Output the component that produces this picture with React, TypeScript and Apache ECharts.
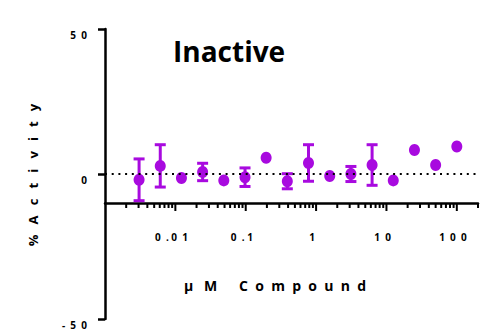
import React, { useEffect, useRef } from 'react';
import * as echarts from 'echarts';

// µM compound concentrations (2-fold dilution series)
const concentrations = [0.00305, 0.0061, 0.0122, 0.0244, 0.0488, 0.0977, 0.195, 0.39, 0.78, 1.5625, 3.125, 6.25, 12.5, 25, 50, 100];
// % activity (means)
const activity = [-2.0, 2.8, -1.4, 0.7, -2.2, -1.1, 5.6, -2.5, 3.8, -0.7, 0.0, 3.1, -2.2, 8.3, 3.1, 9.5];
// error bar half-lengths (0 = hidden behind the marker)
const errors = [7.2, 7.3, 0, 3.0, 0, 3.2, 0, 2.6, 6.3, 0, 2.6, 7.0, 0, 0, 0, 0];

const yTickValues = [-50, 0, 50];
const yTickLabels = ['-  5  0', '0', '5  0'];
const xMajorTicks = [0.01, 0.1, 1, 10, 100];
const xTickLabels = ['0  . 0  1', '0  . 1', '1', '1  0', '1  0  0'];

const titleText = 'Inactive';
const yTitle = '%   A   c   t   i   v   i   t   y';
const xTitle = 'µ   M      C  o  m  p  o  u  n  d';

const X_MIN = 0.001;
const X_MAX = 200;
const PURPLE = '#A80ADF';
const FONT = 'Open Sans';

// keep spaces from collapsing in SVG text
const nb = (s: string) => s.replace(/ /g, '\u00A0');

export default function App() {
  const ref = useRef<HTMLDivElement>(null);

  useEffect(() => {
    if (!ref.current) return;
    document.body.style.margin = '0';
    const chart = echarts.init(ref.current, null, { renderer: 'svg' });

    const points = concentrations.map((c, i) => [c, activity[i]]);
    const bars = concentrations
      .map((c, i) => [c, activity[i] - errors[i], activity[i] + errors[i], errors[i]])
      .filter((d) => d[3] > 0);

    // minor tick values (2..9 x 10^k) within the axis range
    const minorTicks: number[] = [];
    for (let e = -3; e <= 2; e++) {
      for (let m = 2; m <= 9; m++) {
        const v = m * Math.pow(10, e);
        if (v > X_MIN && v <= X_MAX * 1.0001) minorTicks.push(v);
      }
    }
    const tickData = [
      ...minorTicks.map((v) => [v, 0, 0]),
      ...xMajorTicks.map((v) => [v, 0, 1]),
    ];

    const labelFor = (v: number) => {
      const lg = Math.log10(v);
      const e = Math.round(lg);
      if (Math.abs(lg - e) > 1e-6) return '';
      const idx = xMajorTicks.findIndex((t) => Math.abs(Math.log10(t) - e) < 1e-6);
      // trailing spaces nudge the centred label slightly left, as in the reference
      return idx >= 0 ? nb(xTickLabels[idx] + '   ') : '';
    };

    const gridLeft = 105;
    const gridRight = 7;
    const gridTop = 29;
    const gridHeight = 290;
    const axisCrossY = -10;
    const crossPx = gridTop + ((50 - axisCrossY) / 100) * gridHeight;

    chart.setOption({
      animation: false,
      grid: [
        { left: gridLeft, right: gridRight, top: gridTop, height: gridHeight },
        { left: gridLeft, right: gridRight, top: gridTop, height: crossPx - gridTop },
      ],
      xAxis: [
        { type: 'log', gridIndex: 0, min: X_MIN, max: X_MAX, show: false },
        {
          type: 'log',
          gridIndex: 1,
          min: X_MIN,
          max: X_MAX,
          position: 'bottom',
          axisLine: { show: true, onZero: false, lineStyle: { color: '#000', width: 2.5 } },
          axisTick: { show: false },
          splitLine: { show: false },
          axisLabel: {
            show: true,
            margin: 29,
            formatter: labelFor,
            color: '#000',
            fontFamily: FONT,
            fontWeight: 'bold',
            fontSize: 10,
            showMinLabel: false,
            showMaxLabel: false,
          },
        },
      ],
      yAxis: [
        {
          type: 'value',
          gridIndex: 0,
          min: -50,
          max: 50,
          interval: 50,
          axisLine: { show: true, onZero: false, lineStyle: { color: '#000', width: 2.5 } },
          axisTick: { show: true, length: 7, lineStyle: { color: '#000', width: 2.5 } },
          splitLine: { show: false },
          axisLabel: {
            margin: 18,
            color: '#000',
            fontFamily: FONT,
            fontWeight: 'bold',
            fontSize: 10,
            verticalAlign: 'top',
            lineHeight: 11,
            formatter: (v: number) => {
              const idx = yTickValues.indexOf(v);
              return idx >= 0 ? nb(yTickLabels[idx]) : '';
            },
          },
        },
        { type: 'value', gridIndex: 1, min: 0, max: 1, show: false },
      ],
      graphic: [
        {
          type: 'text',
          left: 173,
          top: 37,
          style: {
            text: titleText,
            fontFamily: FONT,
            fontWeight: 'bold',
            fontSize: 28,
            fill: '#000',
          },
        },
        {
          type: 'text',
          x: 33,
          y: 175,
          rotation: Math.PI / 2,
          style: {
            text: nb(yTitle),
            fontFamily: FONT,
            fontWeight: 'bold',
            fontSize: 13,
            fill: '#000',
            align: 'center',
            verticalAlign: 'middle',
          },
        },
        {
          type: 'text',
          x: 275,
          y: 285,
          style: {
            text: nb(xTitle),
            fontFamily: FONT,
            fontWeight: 'bold',
            fontSize: 14,
            fill: '#000',
            align: 'center',
            verticalAlign: 'middle',
          },
        },
      ],
      series: [
        {
          type: 'line',
          xAxisIndex: 0,
          yAxisIndex: 0,
          data: [],
          z: 1,
          markLine: {
            silent: true,
            symbol: ['none', 'none'],
            label: { show: false },
            lineStyle: { color: '#000', width: 2, type: [2, 4.7], cap: 'butt' },
            data: [{ yAxis: 0 }],
          },
        },
        {
          type: 'custom',
          xAxisIndex: 1,
          yAxisIndex: 1,
          clip: false,
          z: 2,
          data: tickData,
          renderItem: (params: any, api: any) => {
            const p = api.coord([api.value(0), api.value(1)]);
            const len = api.value(2) ? 8 : 5;
            return {
              type: 'line',
              shape: { x1: p[0], y1: p[1], x2: p[0], y2: p[1] + len },
              style: { stroke: '#000', lineWidth: 2 },
            };
          },
        },
        {
          type: 'custom',
          xAxisIndex: 0,
          yAxisIndex: 0,
          z: 3,
          data: bars,
          renderItem: (params: any, api: any) => {
            const lo = api.coord([api.value(0), api.value(1)]);
            const hi = api.coord([api.value(0), api.value(2)]);
            const hw = 5.5;
            const st = { stroke: PURPLE, lineWidth: 3 };
            return {
              type: 'group',
              children: [
                { type: 'line', shape: { x1: lo[0], y1: lo[1], x2: hi[0], y2: hi[1] }, style: st },
                { type: 'line', shape: { x1: hi[0] - hw, y1: hi[1], x2: hi[0] + hw, y2: hi[1] }, style: st },
                { type: 'line', shape: { x1: lo[0] - hw, y1: lo[1], x2: lo[0] + hw, y2: lo[1] }, style: st },
              ],
            };
          },
        },
        {
          type: 'scatter',
          xAxisIndex: 0,
          yAxisIndex: 0,
          z: 4,
          symbol: 'circle',
          symbolSize: [11, 12],
          itemStyle: { color: PURPLE, opacity: 1 },
          data: points,
        },
      ],
    });

    return () => chart.dispose();
  }, []);

  return <div ref={ref} style={{ width: 485, height: 330 }} />;
}
